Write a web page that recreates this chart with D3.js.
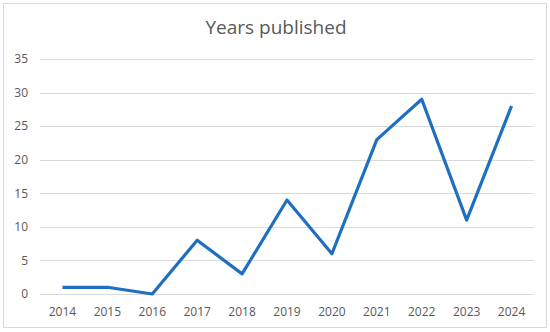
<!DOCTYPE html>
<meta charset="utf-8">
<style>
body {margin: 0; background: #fff;}
.grid line {stroke: #d9d9d9; stroke-width: 1;}
.axis text {font: 12px "Open Sans", sans-serif; fill: #595959;}
.title {font: 19px "Open Sans", sans-serif; fill: #595959;}
</style>
<html>
<body>
<script src="https://d3js.org/d3.v7.min.js"></script>
<script>
var width = 550,
    height = 332;

var years = ["2014", "2015", "2016", "2017", "2018", "2019", "2020", "2021", "2022", "2023", "2024"];
var counts = [1, 1, 0, 8, 3, 14, 6, 23, 29, 11, 28];
var yTicks = [0, 5, 10, 15, 20, 25, 30, 35];

var margin = {top: 59, right: 16, bottom: 38, left: 40};

var svg = d3.select("body").append("svg")
    .attr("width", width)
    .attr("height", height);

// chart frame
svg.append("rect")
    .attr("x", 3.5).attr("y", 3.5)
    .attr("width", width - 7).attr("height", height - 8)
    .attr("fill", "#fff")
    .attr("stroke", "#d9d9d9");

var x = d3.scaleBand()
    .domain(years)
    .range([margin.left, width - margin.right - 0]);

var y = d3.scaleLinear()
    .domain([0, 35])
    .range([height - margin.bottom, margin.top]);

svg.append("text")
    .attr("class", "title")
    .attr("x", 276)
    .attr("y", 34)
    .attr("text-anchor", "middle")
    .text("Years published");

// gridlines
svg.append("g")
    .attr("class", "grid")
    .selectAll("line")
    .data(yTicks)
    .enter().append("line")
    .attr("x1", margin.left)
    .attr("x2", width - margin.right)
    .attr("y1", function(d) { return Math.round(y(d)) + 0.5; })
    .attr("y2", function(d) { return Math.round(y(d)) + 0.5; });

var yAxis = svg.append("g")
    .attr("class", "axis")
    .attr("transform", "translate(" + (margin.left - 12) + ",0)")
    .call(d3.axisLeft(y).tickValues(yTicks).tickSize(0).tickPadding(0));
yAxis.select(".domain").remove();

var xAxis = svg.append("g")
    .attr("class", "axis")
    .attr("transform", "translate(0," + (height - margin.bottom + 13) + ")")
    .call(d3.axisBottom(x).tickSize(0).tickPadding(0));
xAxis.select(".domain").remove();

var line = d3.line()
    .x(function(d, i) { return x(years[i]) + x.bandwidth() / 2; })
    .y(function(d) { return y(d); });

svg.append("path")
    .datum(counts)
    .attr("fill", "none")
    .attr("stroke", "#1f6fc1")
    .attr("stroke-width", 3.2)
    .attr("stroke-linejoin", "round")
    .attr("d", line);
</script>
</body>
</html>
